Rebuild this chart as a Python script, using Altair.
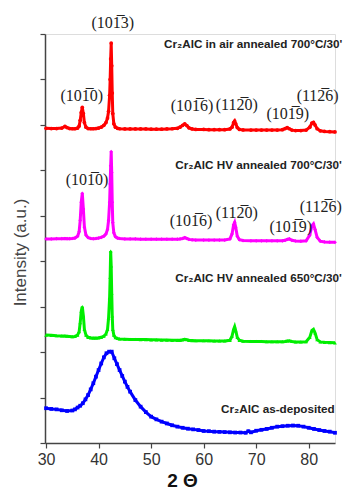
import altair as alt
import pandas as pd

# ---------------- data ----------------
two_theta = [30, 31, 32, 33, 33.6, 34, 34.5, 35, 35.5, 36, 36.3, 36.5, 36.7, 36.9, 37.1, 37.3, 37.6,
             38, 38.5, 39, 39.5, 40, 40.5, 41, 41.4, 41.7, 41.9, 42.1, 42.2, 42.3, 42.4, 42.5, 42.6,
             42.7, 42.9, 43.2, 43.6, 44, 45, 46, 47, 48, 49, 50, 51, 52, 53, 54, 55, 55.5, 56, 56.4,
             56.8, 57.2, 57.8, 58.5, 60, 61, 62, 63, 64, 65, 65.4, 65.7, 65.9, 66.1, 66.4, 66.8, 67.5,
             69, 70, 71, 72, 73, 74, 75, 75.5, 75.9, 76.3, 76.8, 77.5, 78.5, 79.5, 80.2, 80.6, 80.9,
             81.2, 81.6, 82.2, 83, 84, 85]

i_air700 = [13.85, 13.84, 13.84, 13.86, 13.93, 13.88, 13.84, 13.83, 13.83, 13.86, 13.95, 14.2, 14.55,
            14.77, 14.5, 14.1, 13.9, 13.84, 13.83, 13.83, 13.84, 13.86, 13.9, 13.98, 14.1, 14.3, 14.6,
            15.3, 16.0, 16.9, 17.6, 16.6, 15.4, 14.5, 14.05, 13.9, 13.85, 13.83, 13.82, 13.82, 13.82,
            13.82, 13.82, 13.81, 13.81, 13.81, 13.82, 13.83, 13.85, 13.9, 13.98, 14.04, 13.97, 13.87,
            13.82, 13.8, 13.8, 13.79, 13.79, 13.79, 13.79, 13.82, 13.9, 14.1, 14.17, 14.05, 13.88, 13.8,
            13.78, 13.77, 13.77, 13.77, 13.77, 13.77, 13.77, 13.79, 13.84, 13.88, 13.83, 13.77, 13.75,
            13.75, 13.77, 13.9, 14.08, 14.11, 14.0, 13.83, 13.74, 13.71, 13.7, 13.69]

i_hv700 = [8.98, 8.98, 8.99, 8.99, 9.0, 8.99, 8.99, 9.0, 9.02, 9.1, 9.3, 9.8, 10.6, 10.99, 10.3, 9.5,
           9.15, 9.04, 9.0, 8.99, 9.0, 9.02, 9.05, 9.1, 9.2, 9.4, 9.8, 10.6, 11.4, 12.2, 12.82, 11.9,
           10.6, 9.7, 9.25, 9.08, 9.02, 9.0, 8.98, 8.98, 8.98, 8.97, 8.97, 8.97, 8.97, 8.97, 8.97, 8.97,
           8.97, 8.98, 9.0, 9.04, 9.0, 8.96, 8.94, 8.93, 8.93, 8.93, 8.93, 8.93, 8.93, 8.98, 9.2, 9.6,
           9.71, 9.5, 9.1, 8.95, 8.91, 8.9, 8.9, 8.9, 8.9, 8.9, 8.9, 8.9, 8.92, 8.96, 8.98, 8.92, 8.89,
           8.88, 8.9, 9.15, 9.55, 9.64, 9.4, 9.05, 8.88, 8.85, 8.84, 8.83]

i_hv650 = [4.75, 4.74, 4.72, 4.71, 4.71, 4.7, 4.69, 4.68, 4.69, 4.75, 4.9, 5.3, 5.8, 6.0, 5.6, 5.0,
           4.75, 4.65, 4.63, 4.62, 4.62, 4.63, 4.65, 4.7, 4.8, 5.0, 5.5, 6.4, 7.3, 8.45, 7.8, 6.6, 5.6,
           5.0, 4.75, 4.64, 4.6, 4.58, 4.57, 4.56, 4.56, 4.55, 4.55, 4.54, 4.54, 4.53, 4.53, 4.52, 4.52,
           4.52, 4.54, 4.56, 4.55, 4.52, 4.51, 4.5, 4.5, 4.5, 4.49, 4.49, 4.49, 4.52, 4.7, 5.0, 5.12,
           4.95, 4.65, 4.52, 4.48, 4.47, 4.47, 4.47, 4.46, 4.46, 4.46, 4.46, 4.47, 4.49, 4.5, 4.47, 4.45,
           4.45, 4.46, 4.65, 4.95, 5.0, 4.85, 4.55, 4.45, 4.43, 4.42, 4.41]

two_theta_asdep = [30, 31, 32, 33, 34, 35, 35.5, 36, 36.5, 37, 37.5, 38, 38.5, 39, 39.5, 40, 40.5, 41,
                   41.5, 42, 42.5, 43, 43.5, 44, 44.5, 45, 45.5, 46, 47, 48, 49, 50, 51, 52, 53, 54,
                   55, 56, 57, 58, 59, 60, 61, 62, 63, 64, 65, 66, 67, 68, 68.5, 69, 70, 71, 72, 73,
                   74, 75, 76, 77, 78, 79, 80, 81, 82, 83, 84, 85]
i_asdep = [1.53, 1.50, 1.48, 1.44, 1.41, 1.43, 1.48, 1.56, 1.64, 1.75, 1.92, 2.11, 2.36, 2.63, 2.92,
           3.21, 3.50, 3.77, 3.95, 4.02, 4.02, 3.73, 3.47, 3.21, 2.95, 2.70, 2.47, 2.26, 1.89, 1.60,
           1.36, 1.16, 1.04, 0.94, 0.86, 0.78, 0.72, 0.67, 0.63, 0.60, 0.57, 0.53, 0.52, 0.50, 0.49,
           0.48, 0.47, 0.46, 0.46, 0.45, 0.52, 0.47, 0.54, 0.58, 0.62, 0.67, 0.72, 0.74, 0.76, 0.77,
           0.76, 0.72, 0.67, 0.62, 0.57, 0.53, 0.50, 0.45]

series_names = ["Cr₂AlC in air annealed 700°C/30'", "Cr₂AlC HV annealed 700°C/30'",
                "Cr₂AlC HV annealed 650°C/30'", "Cr₂AlC as-deposited"]
series_colors = ["#ff0000", "#ff00ff", "#00ee00", "#0000ff"]
series_shapes = ["circle", "diamond", "triangle-up", "square"]
name_x = [86.4, 86.3, 86.3, 84.95]
name_y = [17.56, 12.24, 7.26, 1.5]

hkl_text = ["(101\u03053)", "(101\u03050)", "(101\u03056)", "(112\u03050)", "(101\u03059)", "(112\u03056)",
            "(101\u03050)", "(101\u03056)", "(112\u03050)", "(101\u03059)", "(112\u03056)"]
hkl_x = [42.7, 36.8, 57.8, 66.3, 76.0, 81.7, 37.8, 57.6, 66.3, 76.6, 82.3]
hkl_y = [18.5, 15.27, 14.83, 14.88, 14.48, 15.27, 11.58, 9.77, 10.12, 9.51, 10.39]

# ---------------- tables ----------------
rows = []
for name, ys in zip(series_names[:3], [i_air700, i_hv700, i_hv650]):
    for t, v in zip(two_theta, ys):
        rows.append({"t": t, "v": v, "s": name})
for t, v in zip(two_theta_asdep, i_asdep):
    rows.append({"t": t, "v": v, "s": series_names[3]})
df = pd.DataFrame(rows)

names_df = pd.DataFrame({"x": name_x, "y": name_y, "label": series_names})
hkl_df = pd.DataFrame({"x": hkl_x, "y": hkl_y, "label": hkl_text})

xscale = alt.Scale(domain=[29.8, 85], nice=False, zero=False)
yscale = alt.Scale(domain=[0, 18], nice=False, zero=False)
color = alt.Color("s:N", scale=alt.Scale(domain=series_names, range=series_colors), legend=None)
shape = alt.Shape("s:N", scale=alt.Scale(domain=series_names, range=series_shapes), legend=None)

xaxis = alt.Axis(
    values=[30, 35, 40, 45, 50, 55, 60, 65, 70, 75, 80, 85],
    labelExpr="datum.value % 10 == 0 ? datum.label : ''",
    tickSize={"condition": {"test": "datum.value % 10 == 0", "value": 5}, "value": 3},
    grid=False, domainColor="#444", domainWidth=1.5, tickColor="#444", tickWidth=1.2,
    labelFont="Liberation Sans", labelFontSize=16, labelColor="#333", labelPadding=3,
    title="2 Θ", titleFont="Liberation Sans", titleFontSize=19, titleFontWeight="bold",
    titleColor="#111", titleX=137, titleY=37, titleBaseline="middle",
)
yaxis = alt.Axis(
    values=list(range(0, 19)), labels=False,
    tickSize={"condition": {"test": "datum.value % 2 == 0", "value": 5}, "value": 3},
    grid=False, domainColor="#444", domainWidth=1.5, tickColor="#444", tickWidth=1.2,
    title="Intensity (a.u.)", titleFont="Liberation Sans", titleFontSize=17,
    titleFontWeight="normal", titleColor="#444", titleAngle=-90, titleX=-25, titleY=218,
    titleAlign="center", titleBaseline="middle",
)

base = alt.Chart(df)
lines = base.mark_line(strokeWidth=3, clip=False).encode(
    x=alt.X("t:Q", scale=xscale, axis=xaxis),
    y=alt.Y("v:Q", scale=yscale, axis=yaxis),
    color=color, detail="s:N",
)
points = base.mark_point(filled=True, size=14, opacity=1).encode(
    x="t:Q", y="v:Q", color=color, shape=shape,
)
names = alt.Chart(names_df).mark_text(
    align="right", baseline="middle", font="Liberation Sans", fontSize=11.7,
    fontWeight="bold", color="#222",
).encode(x="x:Q", y="y:Q", text="label:N")
hkl = alt.Chart(hkl_df).mark_text(
    align="center", baseline="middle", font="Liberation Serif", fontSize=16, color="#222",
).encode(x="x:Q", y="y:Q", text="label:N")

chart = alt.layer(lines, points, names, hkl).properties(
    width=290, height=409,
    autosize=alt.AutoSizeParams(type="none"),
    padding={"left": 45, "top": 34, "right": 11, "bottom": 48},
).configure_view(stroke=None).configure(background="white")

chart.save("out.html", embed_options={"renderer": "svg", "actions": False})
